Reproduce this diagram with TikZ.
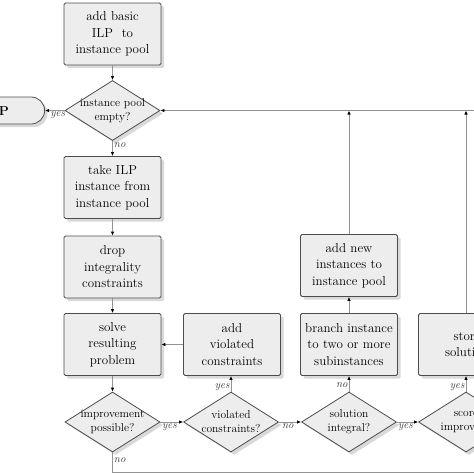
\documentclass[tikz,border=0pt]{standalone}
\usepackage{amsmath}
\usepackage{xcolor}
\usepackage{tikz}
\usetikzlibrary{shapes,arrows.meta,positioning,calc,shadows}

\tikzset{
  block/.style={rectangle, draw=black!70, fill=gray!14, line width=0.8pt,
    rounded corners=1.5pt, text width=90pt, inner xsep=3.5pt,
    minimum height=62pt, align=center,
    font=\fontsize{13}{16.5}\selectfont,
    drop shadow={opacity=.3, shadow xshift=3pt, shadow yshift=-3pt}},
  decision/.style={diamond, draw=black!70, fill=gray!14, line width=0.8pt,
    minimum width=95pt, minimum height=60pt, inner sep=0pt,
    drop shadow={opacity=.3, shadow xshift=3pt, shadow yshift=-3pt}},
  dtext/.style={align=center, inner sep=0pt,
    font=\fontsize{11.5}{14}\selectfont},
  terminal/.style={rounded rectangle, draw=black!70, fill=gray!14,
    line width=0.8pt, minimum width=100pt, minimum height=27pt,
    drop shadow={opacity=.3, shadow xshift=3pt, shadow yshift=-3pt}},
  flow/.style={draw=gray!85, line width=0.9pt,
    -{Latex[length=4pt,width=3.5pt,color=black]}},
  lbl/.style={font=\itshape\fontsize{11}{13}\selectfont, inner sep=1pt,
    text=black!80}
}

\begin{document}
\begin{tikzpicture}[x=1pt,y=-1pt]
  \useasboundingbox (0,0) rectangle (474,474);
  \clip (0,0) rectangle (474,474);

  % main column
  \node[block] (basic) at (112.5,34) {add basic\\ILP~ to\\instance pool};
  \node[decision, label={[dtext]center:{instance pool\\empty?}}] (empty) at (112.5,110.5) {};
  \node[block] (take) at (112.5,187.5) {take ILP\\instance from\\instance pool};
  \node[block] (drop) at (112.5,267) {drop\\integrality\\constraints};
  \node[block] (solve) at (112.5,344.5) {solve\\resulting\\problem};
  \node[decision, label={[dtext]center:{improvement\\possible?}}] (improve) at (112.5,422) {};

  % stop terminal
  \node[terminal, anchor=east] (stop) at (45,110.5) {};
  \node[font=\bfseries\fontsize{13}{16}\selectfont, anchor=east, inner sep=0pt] (stoptxt) at (9,111) {P};

  % cutting planes
  \node[block] (addcuts) at (232,344.5) {add\\violated\\constraints};
  \node[decision, label={[dtext]center:{violated\\constraints?}}] (violated) at (231,422) {};

  % branching
  \node[block] (addnew) at (349,265.5) {add new\\instances to\\instance pool};
  \node[block] (branch) at (349,344.5) {branch instance\\to two or more\\subinstances};
  \node[decision, label={[dtext]center:{solution\\integral?}}] (integral) at (349,422) {};

  % incumbent
  \node[block] (store) at (467,344.5) {store\\solution};
  \node[decision, label={[dtext]center:{score\\improved?}}] (score) at (466,422) {};

  \coordinate (loopB) at (112.5,472);
  \coordinate (loopR) at (500,472);

  % connectors
  \draw[flow] (basic) -- (empty);
  \draw[flow] (empty.west) -- node[lbl, below, pos=.35] {yes} (stop.east);
  \draw[flow] (empty) -- node[lbl, right, pos=.3] {no} (take);
  \draw[flow] (take) -- (drop);
  \draw[flow] (drop) -- (solve);
  \draw[flow] (solve) -- (improve);
  \draw[flow] (improve.east) -- node[lbl, below, pos=.4] {yes} (violated.west);
  \draw[flow] (violated.north) -- node[lbl, left, pos=.3] {yes} (addcuts.south -| violated.north);
  \draw[flow] (addcuts.west) -- (solve.east);
  \draw[flow] (violated.east) -- node[lbl, below, pos=.4] {no} (integral.west);
  \draw[flow] (integral) -- node[lbl, left, pos=.4] {no} (branch);
  \draw[flow] (branch) -- (addnew);
  \draw[flow] (addnew.north) -- (addnew.north |- empty.east);
  \draw[flow] (integral.east) -- node[lbl, below, pos=.4] {yes} (score.west);
  \draw[flow] (score.north) -- node[lbl, left, pos=.3] {yes} (store.south -| score.north);
  \draw[flow] (store.north -| score.north) -- (score.north |- empty.east);
  % back to the pool
  \draw[flow] (improve.south) -- node[lbl, right, pos=.4] {no} (loopB) -- (loopR) |- (empty.east);
\end{tikzpicture}
\end{document}
